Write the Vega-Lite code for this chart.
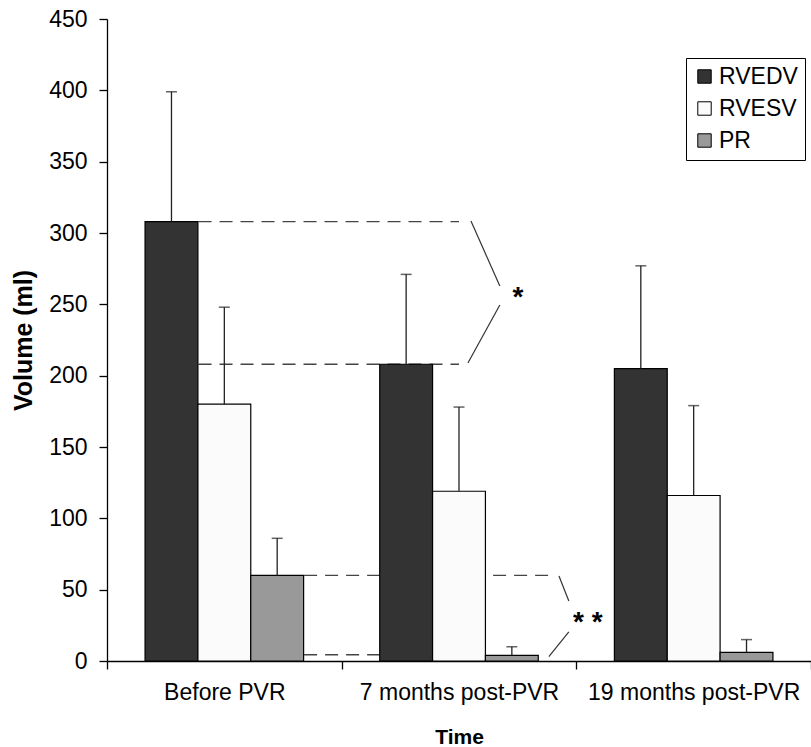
{
  "$schema": "https://vega.github.io/schema/vega-lite/v6.json",
  "width": 704,
  "height": 642,
  "autosize": {"type": "none"},
  "padding": {"left": 107, "top": 19, "right": 0, "bottom": 86},
  "background": "white",
  "config": {
    "view": {"stroke": null},
    "font": "Liberation Sans",
    "axis": {
      "domainColor": "black",
      "tickColor": "black",
      "labelColor": "black",
      "titleColor": "black",
      "grid": false,
      "tickSize": 8,
      "domainWidth": 1.3,
      "tickWidth": 1.3
    },
    "legend": {
      "labelFontSize": 23,
      "labelColor": "black"
    }
  },
  "datasets": {
    "bars": [
      {"Time": "Before PVR", "Series": "RVEDV", "Volume": 308, "Upper": 399},
      {"Time": "Before PVR", "Series": "RVESV", "Volume": 180, "Upper": 248},
      {"Time": "Before PVR", "Series": "PR", "Volume": 60, "Upper": 86},
      {"Time": "7 months post-PVR", "Series": "RVEDV", "Volume": 208, "Upper": 271},
      {"Time": "7 months post-PVR", "Series": "RVESV", "Volume": 119, "Upper": 178},
      {"Time": "7 months post-PVR", "Series": "PR", "Volume": 4, "Upper": 10},
      {"Time": "19 months post-PVR", "Series": "RVEDV", "Volume": 205, "Upper": 277},
      {"Time": "19 months post-PVR", "Series": "RVESV", "Volume": 116, "Upper": 179},
      {"Time": "19 months post-PVR", "Series": "PR", "Volume": 6, "Upper": 15}
    ],
    "dashes": [
      {"seg": "a", "ord": 1, "px": 0.39, "py": 308},
      {"seg": "a", "ord": 2, "px": 1.5, "py": 308},
      {"seg": "b", "ord": 1, "px": 0.39, "py": 208},
      {"seg": "b", "ord": 2, "px": 1.5, "py": 208},
      {"seg": "c", "ord": 1, "px": 0.84, "py": 60},
      {"seg": "c", "ord": 2, "px": 1.91, "py": 60},
      {"seg": "d", "ord": 1, "px": 0.84, "py": 4.4},
      {"seg": "d", "ord": 2, "px": 1.613, "py": 4.4}
    ],
    "braces": [
      {"seg": "e", "ord": 1, "px": 1.551, "py": 308.4},
      {"seg": "e", "ord": 2, "px": 1.674, "py": 262.8},
      {"seg": "f", "ord": 1, "px": 1.674, "py": 249.5},
      {"seg": "f", "ord": 2, "px": 1.538, "py": 208.9},
      {"seg": "g", "ord": 1, "px": 1.926, "py": 59.6},
      {"seg": "g", "ord": 2, "px": 1.968, "py": 42},
      {"seg": "h", "ord": 1, "px": 1.968, "py": 20.5},
      {"seg": "h", "ord": 2, "px": 1.883, "py": 3}
    ],
    "stars": [
      {"px": 1.751, "py": 258, "label": "*"},
      {"px": 2.049, "py": 30, "label": "* *"}
    ]
  },
  "resolve": {"scale": {"x": "independent"}},
  "layer": [
    {
      "data": {"name": "dashes"},
      "mark": {"type": "line", "strokeDash": [13, 8], "color": "#444444", "strokeWidth": 1.4},
      "encoding": {
        "x": {"field": "px", "type": "quantitative", "scale": {"domain": [0, 3], "nice": false, "zero": false}, "axis": null},
        "y": {"field": "py", "type": "quantitative", "scale": {"domain": [0, 450], "nice": false}},
        "detail": {"field": "seg"},
        "order": {"field": "ord"}
      }
    },
    {
      "data": {"name": "bars"},
      "layer": [
        {
          "mark": {"type": "bar", "stroke": "black", "strokeWidth": 1.2},
          "encoding": {
            "x": {
              "field": "Time", "type": "nominal",
              "sort": ["Before PVR", "7 months post-PVR", "19 months post-PVR"],
              "scale": {"paddingInner": 0, "paddingOuter": 0},
              "axis": {
                "title": "Time",
                "labelAngle": 0,
                "labelFontSize": 23,
                "labelPadding": 12,
                "labelLimit": 0,
                "tickBand": "extent",
                "titleFontSize": 21,
                "titleFontWeight": "bold",
                "titlePadding": 22
              }
            },
            "xOffset": {
              "field": "Series", "type": "nominal",
              "sort": ["RVEDV", "RVESV", "PR"],
              "scale": {"paddingInner": 0, "paddingOuter": 0.72}
            },
            "y": {
              "field": "Volume", "type": "quantitative",
              "scale": {"domain": [0, 450], "nice": false},
              "axis": {
                "title": "Volume (ml)",
                "values": [0, 50, 100, 150, 200, 250, 300, 350, 400, 450],
                "labelFontSize": 23,
                "labelPadding": 12,
                "titleFontSize": 25,
                "titleFontWeight": "bold",
                "titlePadding": 12
              }
            },
            "color": {
              "field": "Series", "type": "nominal",
              "sort": ["RVEDV", "RVESV", "PR"],
              "scale": {"domain": ["RVEDV", "RVESV", "PR"], "range": ["#333333", "#fbfbfb", "#999999"]},
              "legend": {
                "title": null,
                "orient": "none",
                "legendX": 579,
                "legendY": 39,
                "symbolType": "square",
                "symbolSize": 180,
                "symbolStrokeColor": "black",
                "symbolStrokeWidth": 1,
                "rowPadding": 8,
                "labelOffset": 3,
                "strokeColor": "black",
                "padding": 7,
                "fillColor": "white"
              }
            }
          }
        },
        {
          "mark": {"type": "rule", "color": "#222222", "strokeWidth": 1.3},
          "encoding": {
            "x": {"field": "Time", "type": "nominal", "sort": ["Before PVR", "7 months post-PVR", "19 months post-PVR"]},
            "xOffset": {"field": "Series", "type": "nominal", "sort": ["RVEDV", "RVESV", "PR"]},
            "y": {"field": "Volume", "type": "quantitative"},
            "y2": {"field": "Upper"}
          }
        },
        {
          "mark": {"type": "tick", "color": "#222222", "size": 11, "thickness": 1.5},
          "encoding": {
            "x": {"field": "Time", "type": "nominal", "sort": ["Before PVR", "7 months post-PVR", "19 months post-PVR"]},
            "xOffset": {"field": "Series", "type": "nominal", "sort": ["RVEDV", "RVESV", "PR"]},
            "y": {"field": "Upper", "type": "quantitative"}
          }
        }
      ]
    },
    {
      "data": {"name": "braces"},
      "mark": {"type": "line", "color": "#333333", "strokeWidth": 1.2},
      "encoding": {
        "x": {"field": "px", "type": "quantitative", "scale": {"domain": [0, 3], "nice": false, "zero": false}, "axis": null},
        "y": {"field": "py", "type": "quantitative"},
        "detail": {"field": "seg"},
        "order": {"field": "ord"}
      }
    },
    {
      "data": {"name": "stars"},
      "mark": {"type": "text", "fontSize": 28, "fontWeight": "bold", "color": "black", "baseline": "alphabetic", "dy": 13},
      "encoding": {
        "x": {"field": "px", "type": "quantitative", "scale": {"domain": [0, 3], "nice": false, "zero": false}, "axis": null},
        "y": {"field": "py", "type": "quantitative"},
        "text": {"field": "label"}
      }
    }
  ]
}
